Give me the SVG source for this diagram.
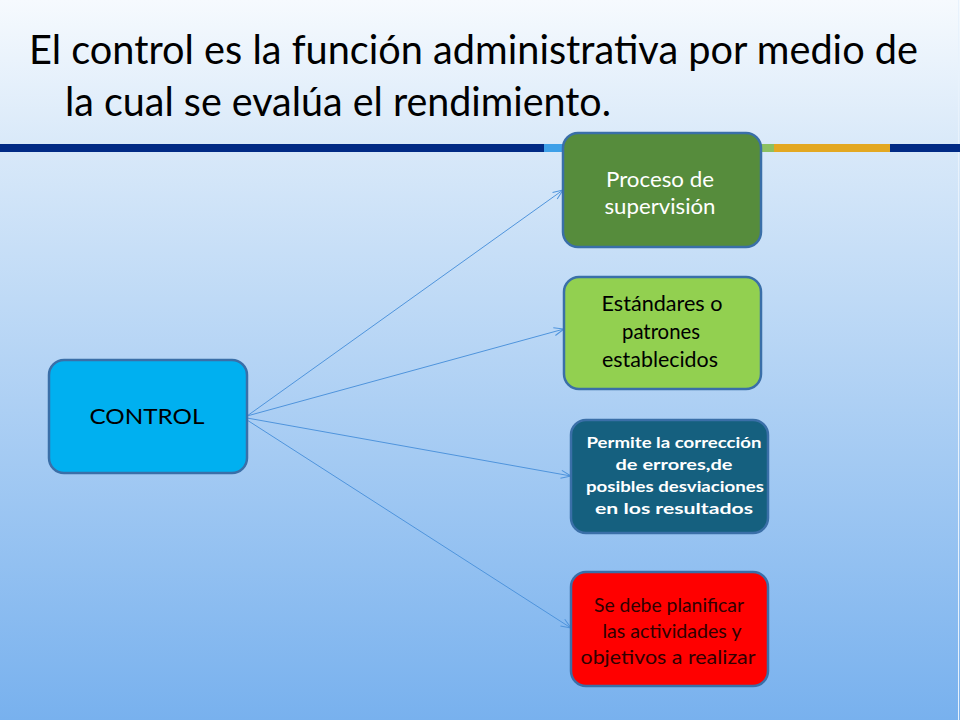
<svg xmlns="http://www.w3.org/2000/svg" width="960" height="720" viewBox="0 0 960 720">
<defs>
<linearGradient id="bg" x1="0" y1="0" x2="0" y2="1">
<stop offset="0" stop-color="#f6fafe"/>
<stop offset="0.2" stop-color="#d9e9f9"/>
<stop offset="1" stop-color="#78b1ee"/>
</linearGradient>
<marker id="arr" viewBox="0 0 12 10" refX="11" refY="5" markerWidth="12" markerHeight="10" markerUnits="userSpaceOnUse" orient="auto">
<path d="M1,1 L11,5 L1,9" fill="none" stroke="#4f94dc" stroke-width="1"/>
</marker>
<style>
.title{font-family:"Lato","Liberation Sans",sans-serif;font-size:40px;fill:#000}
.box{stroke:#3a6fa8;stroke-width:2.5}
.t{font-family:"Lato","Liberation Sans",sans-serif;text-anchor:middle}
.conn line{stroke:#4f94dc;stroke-width:1;fill:none}
</style>
</defs>
<rect width="960" height="720" fill="url(#bg)"/>
<line x1="958.5" y1="0" x2="958.5" y2="720" stroke="#e8f2fc" stroke-width="1"/>
<g id="stripe">
<rect x="0" y="144" width="544" height="8" fill="#002a85"/>
<rect x="544" y="144" width="20" height="8" fill="#3ea0e8"/>
<rect x="760" y="144" width="14" height="8" fill="#8cc060"/>
<rect x="774" y="144" width="116" height="8" fill="#e3a822"/>
<rect x="890" y="144" width="70" height="8" fill="#002a85"/>
</g>
<g id="title">
<text class="title" x="29" y="64" textLength="889" lengthAdjust="spacingAndGlyphs">El control es la función administrativa por medio de</text>
<text class="title" x="65" y="116" textLength="546" lengthAdjust="spacingAndGlyphs">la cual se evalúa el rendimiento.</text>
</g>
<g class="conn" id="connectors">
<line x1="247" y1="416" x2="563" y2="190" marker-end="url(#arr)"/>
<line x1="247" y1="416" x2="564" y2="329" marker-end="url(#arr)"/>
<line x1="247" y1="418" x2="571" y2="476" marker-end="url(#arr)"/>
<line x1="247" y1="420" x2="571" y2="628" marker-end="url(#arr)"/>
</g>
<g id="control">
<rect class="box" x="49" y="360" width="198" height="113" rx="15" fill="#00b0f0"/>
<text class="t" x="147" y="424" font-size="21" fill="#000" textLength="115" lengthAdjust="spacingAndGlyphs">CONTROL</text>
</g>
<g id="proceso">
<rect class="box" x="563" y="133" width="198" height="114" rx="15" fill="#568c3c"/>
<text class="t" x="660" y="187" font-size="21" fill="#fff" textLength="108" lengthAdjust="spacingAndGlyphs">Proceso de</text>
<text class="t" x="660" y="214" font-size="21" fill="#fff" textLength="111" lengthAdjust="spacingAndGlyphs">supervisión</text>
</g>
<g id="estandares">
<rect class="box" x="564" y="277" width="197" height="112" rx="15" fill="#92d050"/>
<text class="t" x="662" y="311" font-size="21" fill="#000" textLength="121" lengthAdjust="spacingAndGlyphs">Estándares o</text>
<text class="t" x="661" y="339" font-size="21" fill="#000" textLength="78" lengthAdjust="spacingAndGlyphs">patrones</text>
<text class="t" x="660" y="367" font-size="21" fill="#000" textLength="116" lengthAdjust="spacingAndGlyphs">establecidos</text>
</g>
<g id="permite">
<rect class="box" x="571" y="420" width="197" height="113" rx="15" fill="#15607f"/>
<text class="t" x="674" y="448" font-size="16" font-weight="bold" fill="#fff" textLength="175" lengthAdjust="spacingAndGlyphs">Permite la corrección</text>
<text class="t" x="674" y="470" font-size="16" font-weight="bold" fill="#fff" textLength="117" lengthAdjust="spacingAndGlyphs">de errores,de</text>
<text class="t" x="675" y="492" font-size="16" font-weight="bold" fill="#fff" textLength="178" lengthAdjust="spacingAndGlyphs">posibles desviaciones</text>
<text class="t" x="674" y="514" font-size="16" font-weight="bold" fill="#fff" textLength="158" lengthAdjust="spacingAndGlyphs">en los resultados</text>
</g>
<g id="planificar">
<rect class="box" x="571" y="572" width="197" height="114" rx="15" fill="#ff0000"/>
<text class="t" x="669" y="612" font-size="19" fill="#300000" textLength="150" lengthAdjust="spacingAndGlyphs">Se debe planificar</text>
<text class="t" x="672" y="638" font-size="19" fill="#300000" textLength="139" lengthAdjust="spacingAndGlyphs">las actividades y</text>
<text class="t" x="668" y="664" font-size="19" fill="#300000" textLength="175" lengthAdjust="spacingAndGlyphs">objetivos a realizar</text>
</g>
</svg>
